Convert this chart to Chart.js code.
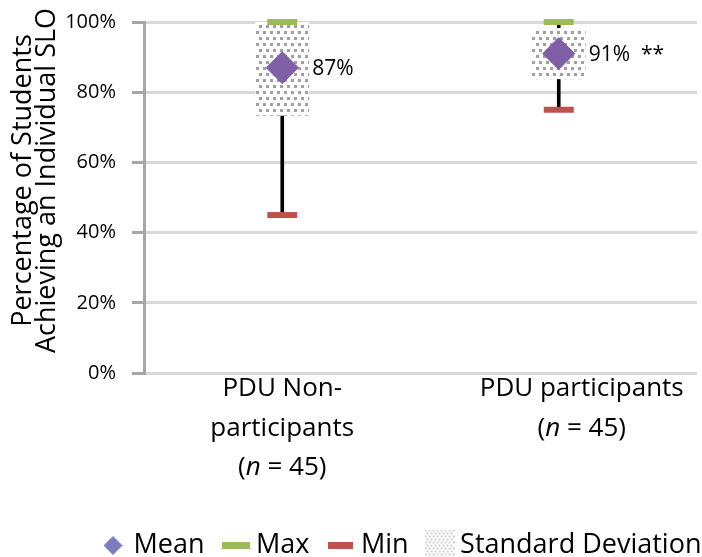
<!DOCTYPE html>
<html>
<head>
<meta charset="utf-8">
<script src="https://cdn.jsdelivr.net/npm/chart.js@4.4.1/dist/chart.umd.min.js"></script>
<style>
  html, body { margin: 0; padding: 0; background: #ffffff; }
  #wrap { width: 702px; height: 557px; }
</style>
</head>
<body>
<div id="wrap"><canvas id="chart" width="702" height="557"></canvas></div>
<script>
// ---- data ----
const categories = ['PDU Non-participants', 'PDU participants'];
const categoryNameLines = [['PDU Non-', 'participants'], ['PDU participants']];
const sampleSizes = [45, 45];
const meanValues = [87, 91];
const sdValues = [13.6, 7.2];
const maxValues = [100, 100];
const minValues = [45, 75];
const labelSuffix = ['', '  **'];
const yTickValues = [0, 20, 40, 60, 80, 100];
const yTitleLines = ['Percentage of Students', 'Achieving an Individual SLO'];
const legendNames = ['Mean', 'Max', 'Min', 'Standard Deviation'];

// ---- colours ----
const MEAN_COLOR = '#7F5FA6';
const MEAN_LEGEND_COLOR = '#7D7DBE';
const MAX_COLOR = '#9BBB59';
const MIN_COLOR = '#C0504D';
const FONT = "'Open Sans', 'DejaVu Sans', sans-serif";

Chart.defaults.font.family = FONT;
Chart.defaults.color = '#000000';

// dotted fill used for the standard deviation boxes
function dottedTile(w, h, dots, size, color) {
  const c = document.createElement('canvas');
  c.width = w; c.height = h;
  const g = c.getContext('2d');
  g.fillStyle = '#ffffff';
  g.fillRect(0, 0, w, h);
  g.fillStyle = color;
  dots.forEach(([x, y]) => g.fillRect(x, y, size, size));
  return c;
}
const ctx = document.getElementById('chart').getContext('2d');
const sdPattern = ctx.createPattern(
  dottedTile(7, 12, [[0, 1], [4, 7]], 3, '#A0A0A0'), 'repeat');

// legend marker canvases
function diamondMarker(size, color) {
  const c = document.createElement('canvas');
  c.width = size; c.height = size;
  const g = c.getContext('2d');
  g.fillStyle = color;
  g.beginPath();
  g.moveTo(size / 2, 0); g.lineTo(size, size / 2);
  g.lineTo(size / 2, size); g.lineTo(0, size / 2);
  g.closePath(); g.fill();
  return c;
}
function barMarker(w, h, color) {
  const c = document.createElement('canvas');
  c.width = w; c.height = h;
  const g = c.getContext('2d');
  g.fillStyle = color;
  g.fillRect(0, 0, w, h);
  return c;
}
function patternMarker(w, h) {
  const c = document.createElement('canvas');
  c.width = w; c.height = h;
  const g = c.getContext('2d');
  g.fillStyle = '#ffffff';
  g.fillRect(0, 0, w, h);
  g.fillStyle = '#CFCFCF';
  for (let y = 0; y < h; y += 3) {
    const off = (Math.round(y / 3) % 2) * 2;
    for (let x = off; x < w; x += 4) g.fillRect(x, y, 2, 2);
  }
  return c;
}
const legendMarkers = [
  diamondMarker(19, MEAN_LEGEND_COLOR),
  barMarker(28, 7, MAX_COLOR),
  barMarker(25, 7, MIN_COLOR),
  patternMarker(30, 32)
];

// value labels next to the mean markers
const meanLabels = {
  id: 'meanLabels',
  afterDatasetsDraw(chart) {
    const meta = chart.getDatasetMeta(0);
    const c = chart.ctx;
    c.save();
    c.font = '21px ' + FONT;
    c.fillStyle = '#000000';
    c.textAlign = 'left';
    c.textBaseline = 'middle';
    meta.data.forEach((pt, i) => {
      c.fillText(meanValues[i] + '%' + labelSuffix[i], pt.x + 30, pt.y + 1);
    });
    c.restore();
  }
};

// category names with the italic sample-size line, and the two-line y title
const categoryLabelNudge = [0, 23];
const axisText = {
  id: 'axisText',
  afterDraw(chart) {
    const c = chart.ctx;
    const xs = chart.scales.x;
    const area = chart.chartArea;
    const step = 39.5;
    c.save();
    c.fillStyle = '#000000';
    c.textBaseline = 'middle';
    categoryNameLines.forEach((lines, i) => {
      const cx = xs.getPixelForTick(i) + categoryLabelNudge[i];
      let y = area.bottom + 16;
      c.font = '26px ' + FONT;
      c.textAlign = 'center';
      lines.forEach(line => { c.fillText(line, cx, y); y += step; });
      const parts = [
        ['(', false], ['n', true], [' = ' + sampleSizes[i] + ')', false]
      ];
      let total = 0;
      parts.forEach(p => {
        c.font = (p[1] ? 'italic ' : '') + '26px ' + FONT;
        total += c.measureText(p[0]).width;
      });
      let x = cx - total / 2;
      c.textAlign = 'left';
      parts.forEach(p => {
        c.font = (p[1] ? 'italic ' : '') + '26px ' + FONT;
        c.fillText(p[0], x, y);
        x += c.measureText(p[0]).width;
      });
    });

    c.translate(0, (area.top + area.bottom) / 2 - 17);
    c.rotate(-Math.PI / 2);
    c.font = '27px ' + FONT;
    c.textAlign = 'center';
    yTitleLines.forEach((line, i) => c.fillText(line, 0, 23 + i * 24));
    c.restore();
  }
};

// place the legend row under the plot
const legendPlacement = {
  id: 'legendPlacement',
  afterLayout(chart) {
    const lg = chart.legend;
    lg.left += 82; lg.right += 82;
    lg.top += 12; lg.bottom += 12;
  }
};

new Chart(ctx, {
  type: 'bar',
  data: {
    labels: categories,
    datasets: [
      {
        type: 'line', label: 'Mean', data: meanValues, showLine: false,
        pointStyle: 'rectRot', pointRadius: 16, pointHoverRadius: 16,
        pointBackgroundColor: MEAN_COLOR, pointBorderColor: MEAN_COLOR,
        pointBorderWidth: 1, order: 0, clip: false
      },
      {
        type: 'line', label: 'Max', data: maxValues, showLine: false,
        pointStyle: 'line', pointRadius: 15, pointHoverRadius: 15,
        pointBorderColor: MAX_COLOR, pointBorderWidth: 6,
        order: 1, clip: false
      },
      {
        type: 'line', label: 'Min', data: minValues, showLine: false,
        pointStyle: 'line', pointRadius: 15, pointHoverRadius: 15,
        pointBorderColor: MIN_COLOR, pointBorderWidth: 6,
        order: 2, clip: false
      },
      {
        type: 'bar', label: 'Standard Deviation',
        data: meanValues.map((m, i) => [m - sdValues[i], m + sdValues[i]]),
        backgroundColor: sdPattern, borderWidth: 0,
        barThickness: 53, grouped: false, order: 3
      },
      {
        type: 'bar', label: 'Range',
        data: minValues.map((v, i) => [v, maxValues[i]]),
        backgroundColor: '#000000', borderWidth: 0,
        barThickness: 3, grouped: false, order: 4
      }
    ]
  },
  options: {
    responsive: false,
    animation: false,
    events: [],
    layout: { autoPadding: false, padding: { top: 22, right: 5, left: 0, bottom: 0 } },
    scales: {
      x: {
        offset: true,
        ticks: { display: false },
        grid: { display: false, drawTicks: false },
        border: { display: false },
        afterFit(scale) { scale.height = 123; }
      },
      y: {
        min: 0, max: 100,
        afterBuildTicks(scale) { scale.ticks = yTickValues.map(v => ({ value: v })); },
        ticks: {
          callback: v => v + '%',
          font: { size: 20 }, color: '#000000', padding: 16
        },
        grid: {
          color: '#D9D9D9', lineWidth: 3,
          tickLength: 12, tickColor: '#A6A6A6', tickWidth: 3
        },
        border: { color: '#A6A6A6', width: 3 },
        afterFit(scale) {
          scale.width = 144;
          scale.paddingTop = 0;
          scale.paddingBottom = 0;
        }
      }
    },
    plugins: {
      tooltip: { enabled: false },
      legend: {
        position: 'bottom',
        align: 'start',
        labels: {
          usePointStyle: true,
          boxWidth: 14, boxHeight: 27, pointStyleWidth: 14,
          padding: 24,
          font: { size: 27 },
          color: '#000000',
          generateLabels: () => legendNames.map((name, i) => ({
            text: name,
            pointStyle: legendMarkers[i],
            fillStyle: 'transparent',
            strokeStyle: 'transparent',
            lineWidth: 0,
            hidden: false,
            datasetIndex: i,
            fontColor: '#000000'
          }))
        }
      }
    }
  },
  plugins: [meanLabels, axisText, legendPlacement]
});
</script>
</body>
</html>
